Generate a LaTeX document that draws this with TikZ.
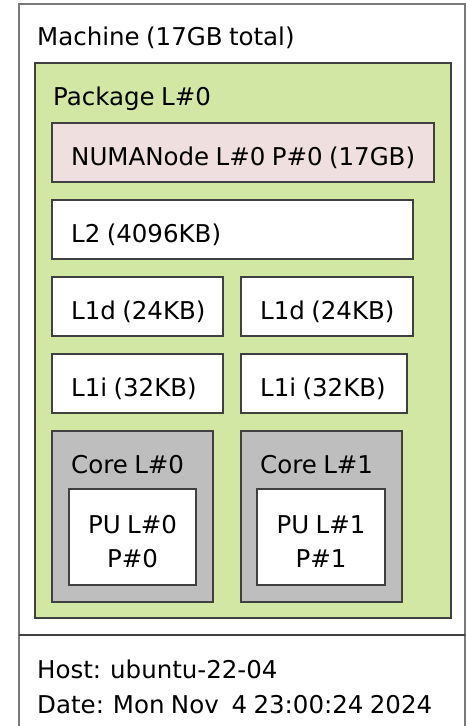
\documentclass[tikz,border=0pt]{standalone}
\usepackage{fontspec}
\setmainfont{DejaVu Sans}
\definecolor{pkgfill}{HTML}{D2E7A4}
\definecolor{numafill}{HTML}{EFDFDE}
\definecolor{corefill}{HTML}{BEBEBE}
\definecolor{edge}{HTML}{404040}
\newcommand{\boxfont}{\fontsize{24.5}{29}\selectfont\spaceskip=0.26em\relax}
\tikzset{
  obj/.style={draw=edge, line width=2.4pt},
  lbl/.style={anchor=base west, inner sep=0pt, font=\boxfont},
  clbl/.style={anchor=base, inner sep=0pt, font=\boxfont},
}
\begin{document}
\begin{tikzpicture}[x=1pt,y=-1pt]
\useasboundingbox (0,0) rectangle (466,726);
\clip (0,0) rectangle (466,726);
% machine and legend
\draw[draw=edge!70, line width=2pt, fill=white] (19,4) rectangle (465,740);
\draw[draw=edge, line width=2.4pt] (19,635) -- (465,635);
\node[lbl] (mach) at (37,45) {Machine (17GB total)};
\node[lbl] (host) at (37,678) {Host: ubuntu-22-04};
\node[lbl] (date) at (37,713) {Date: Mon Nov\ \ 4 23:00:24 2024};
% package
\draw[obj, fill=pkgfill] (35,63) rectangle (451,618);
\node[lbl] (pkg) at (53,105) {Package L\#0};
% numa node
\draw[obj, fill=numafill] (52,123) rectangle (434,182);
\node[lbl] (numa) at (71,165) {NUMANode L\#0 P\#0 (17GB)};
% caches
\draw[obj, fill=white] (52,200) rectangle (413,259);
\node[lbl] (l2) at (71,242) {L2 (4096KB)};
\draw[obj, fill=white] (52,277) rectangle (223,336);
\node[lbl] (l1d0) at (71,319) {L1d (24KB)};
\draw[obj, fill=white] (241,277) rectangle (413,336);
\node[lbl] (l1d1) at (260,319) {L1d (24KB)};
\draw[obj, fill=white] (52,354) rectangle (223,413);
\node[lbl] (l1i0) at (71,396) {L1i (32KB)};
\draw[obj, fill=white] (241,354) rectangle (407,413);
\node[lbl] (l1i1) at (260,396) {L1i (32KB)};
% cores
\draw[obj, fill=corefill] (52,431) rectangle (213,602);
\node[lbl] (core0) at (71,473) {Core L\#0};
\draw[obj, fill=corefill] (241,431) rectangle (402,602);
\node[lbl] (core1) at (260,473) {Core L\#1};
% processing units
\draw[obj, fill=white] (69,489) rectangle (196,585);
\node[clbl] (pu0a) at (132.5,533) {PU L\#0};
\node[clbl] (pu0b) at (132.5,567) {P\#0};
\draw[obj, fill=white] (257,489) rectangle (385,585);
\node[clbl] (pu1a) at (321,533) {PU L\#1};
\node[clbl] (pu1b) at (321,567) {P\#1};
\end{tikzpicture}
\end{document}
